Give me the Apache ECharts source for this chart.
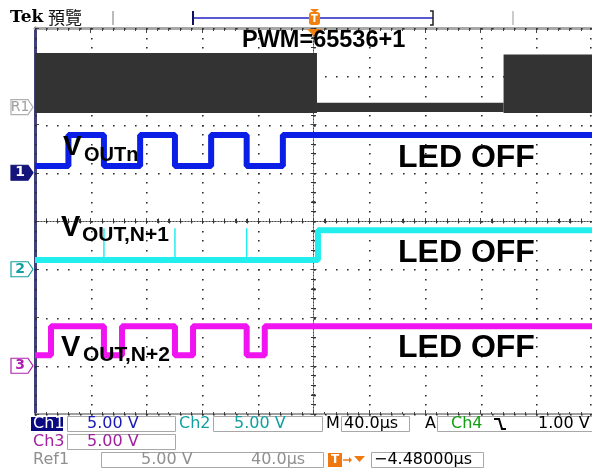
<!DOCTYPE html>
<html><head><meta charset="utf-8">
<script src="https://cdn.jsdelivr.net/npm/echarts@6/dist/echarts.min.js"></script>
<style>html,body{margin:0;padding:0;background:#fff}#c{width:592px;height:470px}</style>
</head><body><div id="c"></div>
<script>
// Time axis in µs (40 µs/div, 10 div); vertical axis in screen divisions (8 div)
const timeMin = -200, timeMax = 200, timeDiv = 40;
const divMin = -4, divMax = 4;
const xTicks = [-200, -160, -120, -80, -40, 0, 40, 80, 120, 160, 200];
const yTicks = [-4, -3, -2, -1, 0, 1, 2, 3, 4];

// Ref1 (PWM clock bursts): dark band segments between ref1Times[i] and ref1Times[i+1]
const ref1Times  = [-200, 2.5, 136.5, 200];
const ref1Top    = [3.48, 2.45, 3.45];
const ref1Bottom = [2.24, 2.26, 2.24];

// Ch1 VOUTn
const ch1Times  = [-200, -176, -150.5, -124.5, -99.5, -73.5, -48, -22, 200];
const ch1Levels = [1.14, 1.78, 1.14, 1.78, 1.14, 1.78, 1.14, 1.78, 1.78];

// Ch2 VOUT,N+1
const ch2Times  = [-200, 3.2, 200];
const ch2Levels = [-0.81, -0.19, -0.19];
const ch2SpikeTimes = [-150.5, -99.5, -48];
const ch2SpikeTop = -0.15;

// Ch3 VOUT,N+2
const ch3Times  = [-200, -188.5, -150.5, -137.5, -99.5, -86.5, -48, -35, 200];
const ch3Levels = [-2.78, -2.18, -2.78, -2.18, -2.78, -2.18, -2.78, -2.18, -2.18];

// channel ground markers (div)
const markerNames  = ['R1', '1', '2', '3'];
const markerLevels = [2.36, 1.0, -1.0, -3.0];

const zip = (a, b) => a.map((t, i) => [t, b[i]]);
const spikeData = [];
ch2SpikeTimes.forEach(t => { spikeData.push([t, ch2Levels[0]], [t, ch2SpikeTop], [t, '-']); });
const ref1Segs = ref1Top.map((top, i) => [ref1Times[i], ref1Times[i + 1], ref1Bottom[i], top]);

// graticule items: [kind, value]  0 = vertical division line, 1 = horizontal division line,
// 2 = minor tick on the centre horizontal line, 3 = minor tick on the centre vertical line
const gratData = [];
xTicks.forEach(t => gratData.push([0, t]));
yTicks.forEach(v => gratData.push([1, v]));
for (let i = 0; i < xTicks.length - 1; i++) for (let k = 1; k < 5; k++)
  gratData.push([2, xTicks[i] + (xTicks[i + 1] - xTicks[i]) * k / 5]);
for (let i = 0; i < yTicks.length - 1; i++) for (let k = 1; k < 5; k++)
  gratData.push([3, yTicks[i] + (yTicks[i + 1] - yTicks[i]) * k / 5]);

const chart = echarts.init(document.getElementById('c'), null, {renderer: 'canvas'});

const tickStyle = {color: '#444', width: 1};
const baseX = {type: 'value', min: timeMin, max: timeMax, interval: timeDiv,
  axisLabel: {show: false}, splitLine: {show: false}};
const baseY = {type: 'value', min: divMin, max: divMax, interval: 1,
  axisLabel: {show: false}, splitLine: {show: false}};
function ticks(len, mlen) {
  return {
    axisTick: {show: true, inside: true, length: len, lineStyle: tickStyle},
    minorTick: {show: true, splitNumber: 5, length: mlen, lineStyle: tickStyle}
  };
}
const DOT = 1.6, DOTC = '#2a2a2a';

chart.setOption({
  animation: false,
  backgroundColor: '#fff',
  grid: {left: 35, right: 0, top: 28, bottom: 56, containLabel: false},
  xAxis: [
    Object.assign({}, baseX, ticks(4, 2), {position: 'bottom',
      axisLine: {show: true, onZero: false, lineStyle: {color: '#a0a0a0', width: 2}}}),
    Object.assign({}, baseX, ticks(5, 3), {position: 'top',
      axisLine: {show: true, onZero: false, lineStyle: {color: '#a8a8a8', width: 3}}}),
    Object.assign({}, baseX, ticks(3, 2), {position: 'bottom',
      axisLine: {show: true, onZero: true, onZeroAxisIndex: 0, lineStyle: {color: '#444', width: 1, type: [1, 2]}}}),
    Object.assign({}, baseX, ticks(3, 2), {position: 'top',
      axisLine: {show: true, onZero: true, onZeroAxisIndex: 0, lineStyle: {color: '#444', width: 1, type: [1, 2]}}})
  ],
  yAxis: [
    Object.assign({}, baseY, ticks(4, 2), {position: 'left',
      axisLine: {show: true, onZero: false, lineStyle: {color: '#40407a', width: 3}}}),
    Object.assign({}, baseY, ticks(3, 2), {position: 'left',
      axisLine: {show: true, onZero: true, onZeroAxisIndex: 0, lineStyle: {color: '#444', width: 1, type: [1, 2]}}}),
    Object.assign({}, baseY, ticks(3, 2), {position: 'right',
      axisLine: {show: true, onZero: true, onZeroAxisIndex: 0, lineStyle: {color: '#444', width: 1, type: [1, 2]}}})
  ],
  series: [
    {name: 'Graticule', type: 'custom', data: gratData, z: 1, silent: true, clip: false,
      renderItem: function (params, api) {
        const kind = api.value(0), v = api.value(1);
        const children = [];
        if (kind === 0) {
          const a = api.coord([v, divMax]), b = api.coord([v, divMin]);
          const x = Math.min(Math.round(a[0]), 590);
          const gap = (b[1] - a[1]) / 40;
          for (let k = 0; k <= 40; k++)
            children.push({type: 'rect', shape: {x: x, y: Math.round(a[1] + k * gap), width: DOT, height: DOT}, style: {fill: DOTC}});
          return {type: 'group', children: children};
        }
        if (kind === 1) {
          const a = api.coord([timeMin, v]), b = api.coord([timeMax, v]);
          const y = Math.round(a[1]);
          const gap = (b[0] - a[0]) / 50;
          for (let k = 0; k <= 50; k++)
            children.push({type: 'rect', shape: {x: Math.min(Math.round(a[0] + k * gap), 590), y: y, width: DOT, height: DOT}, style: {fill: DOTC}});
          return {type: 'group', children: children};
        }
        if (kind === 2) {
          const p = api.coord([v, 0]);
          const x = Math.round(p[0]) + 0.5;
          return {type: 'line', shape: {x1: x, y1: p[1] - 2.5, x2: x, y2: p[1] + 2.5},
            style: {stroke: '#333', lineWidth: 1}};
        }
        const p = api.coord([0, v]);
        const y = Math.round(p[1]) + 0.5;
        return {type: 'line', shape: {x1: p[0] - 2.5, y1: y, x2: p[0] + 2.5, y2: y},
          style: {stroke: '#333', lineWidth: 1}};
      }},
    {name: 'Ref1', type: 'custom', data: ref1Segs, z: 3, silent: true,
      encode: {x: [0, 1], y: [2, 3]},
      renderItem: function (params, api) {
        const p1 = api.coord([api.value(0), api.value(3)]);
        const p2 = api.coord([api.value(1), api.value(2)]);
        return {type: 'rect', shape: {x: p1[0], y: p1[1], width: p2[0] - p1[0], height: p2[1] - p1[1]},
          style: {fill: '#333'}};
      }},
    {name: 'Ch1', type: 'line', step: 'end', symbol: 'none', data: zip(ch1Times, ch1Levels),
      lineStyle: {color: '#0a1ee6', width: 6}, z: 4},
    {name: 'Ch2', type: 'line', step: 'end', symbol: 'none', data: zip(ch2Times, ch2Levels),
      lineStyle: {color: '#22eeee', width: 6}, z: 4},
    {name: 'Ch2 spikes', type: 'line', symbol: 'none', data: spikeData, connectNulls: false,
      lineStyle: {color: '#22eeee', width: 1.5}, z: 4},
    {name: 'Ch3', type: 'line', step: 'end', symbol: 'none', data: zip(ch3Times, ch3Levels),
      lineStyle: {color: '#f014f0', width: 6}, z: 4}
  ]
});

// ---- decorations & text ----
const g = [];
function txt(x, y, text, font, fill, align) {
  g.push({type: 'text', x: x, y: y, z: 100, silent: true,
    style: {text: text, font: font, fill: fill, textAlign: align || 'left', textVerticalAlign: 'middle'}});
}
function rect(x, y, w, h, fill, stroke) {
  g.push({type: 'rect', z: 90, shape: {x: x, y: y, width: w, height: h},
    style: {fill: fill || 'none', stroke: stroke || 'none', lineWidth: 1}});
}
function line(x1, y1, x2, y2, color, w) {
  g.push({type: 'line', z: 90, shape: {x1: x1, y1: y1, x2: x2, y2: y2}, style: {stroke: color, lineWidth: w}});
}
const B = 'bold ', LS = '"Liberation Sans", Arial, sans-serif';

// top bar
txt(10, 18, 'Tek', 'bold 17px "DejaVu Serif", serif', '#000');
txt(48, 18, '預覽', '17px "Noto Sans CJK TC", sans-serif', '#111');
line(113, 11, 113, 25, '#bbb', 2);
line(513, 11, 513, 25, '#ccc', 2);
line(193, 18, 433, 18, '#5a5ad0', 2);
line(193, 11, 193, 25, '#101060', 2);
g.push({type: 'polyline', z: 90, shape: {points: [[430, 11], [433, 11], [433, 25], [430, 25]]}, style: {stroke: '#222', lineWidth: 1.5, fill: 'none'}});
g.push({type: 'rect', z: 91, shape: {x: 309, y: 12, width: 11, height: 13, r: 3}, style: {fill: '#f08010'}});
g.push({type: 'polygon', z: 91, shape: {points: [[310, 9], [319, 9], [314.5, 13]]}, style: {fill: '#f08010'}});
txt(314.5, 19, 'T', 'bold 10px "DejaVu Sans", sans-serif', '#fff', 'center');
g.push({type: 'polygon', z: 91, shape: {points: [[307, 29], [322, 29], [314.5, 37]]}, style: {fill: '#f08010'}});

// annotations
txt(242, 40.5, 'PWM=65536+1', B + '23.5px ' + LS, '#000');
txt(63, 147, 'V', B + '28px ' + LS, '#000');
txt(84, 155, 'OUTn', B + '20px ' + LS, '#000');
txt(61, 227.5, 'V', B + '29px ' + LS, '#000');
txt(82, 235.5, 'OUT,N+1', B + '21px ' + LS, '#000');
txt(61, 347.5, 'V', B + '29px ' + LS, '#000');
txt(83, 355, 'OUT,N+2', B + '21px ' + LS, '#000');
txt(398, 158.5, 'LED OFF', B + '32px ' + LS, '#000');
txt(398, 253, 'LED OFF', B + '32px ' + LS, '#000');
txt(398, 348.5, 'LED OFF', B + '32px ' + LS, '#000');

// channel markers at ground levels
const markerStyle = [
  {fill: '#fff', stroke: '#b0b0b0', text: '#a0a0a0'},
  {fill: '#14147a', stroke: '#14147a', text: '#fff'},
  {fill: '#fff', stroke: '#10a0a0', text: '#10a0a0'},
  {fill: '#fff', stroke: '#b020b0', text: '#b020b0'}
];
markerNames.forEach((n, i) => {
  const y = chart.convertToPixel({yAxisIndex: 0}, markerLevels[i]);
  const s = markerStyle[i];
  g.push({type: 'polygon', z: 92, shape: {points: [[11, y - 7.5], [28, y - 7.5], [33, y], [28, y + 7.5], [11, y + 7.5]]},
    style: {fill: s.fill, stroke: s.stroke, lineWidth: 1.2}});
  txt(20, y, n, (i === 0 ? '' : 'bold ') + '14px "DejaVu Sans", sans-serif', s.text, 'center');
});

// status area
const SF = '16px "DejaVu Sans", sans-serif';
const boxC = '#a8a8a8';
rect(31, 417, 32, 14, '#0a0a80');
txt(33, 424, 'Ch1', SF, '#fff');
rect(67.5, 416.5, 108, 15, null, boxC);
txt(87, 424, '5.00 V', SF, '#1a1ab4');
txt(179, 424, 'Ch2', SF, '#10a0a0');
rect(213.5, 416.5, 109, 15, null, boxC);
txt(234, 424, '5.00 V', SF, '#10a0a0');
txt(326, 424, 'M', SF, '#000');
rect(341.5, 416.5, 68, 15, null, boxC);
txt(344, 424, '40.0µs', SF, '#000');
txt(425, 424, 'A', SF, '#000');
rect(437.5, 416.5, 160, 15, null, boxC);
txt(451, 424, 'Ch4', SF, '#10a010');
g.push({type: 'polyline', z: 92, shape: {points: [[494, 419], [499, 419], [502, 429], [506, 429]]}, style: {stroke: '#000', lineWidth: 2, fill: 'none'}});
txt(538, 424, '1.00 V', SF, '#000');

txt(33, 442, 'Ch3', SF, '#a020a0');
rect(67.5, 434.5, 108, 15, null, boxC);
txt(87, 442, '5.00 V', SF, '#a020a0');

txt(33, 460, 'Ref1', SF, '#909090');
rect(101.5, 452.5, 222, 15, null, boxC);
txt(141, 460, '5.00 V', SF, '#909090');
txt(251, 460, '40.0µs', SF, '#909090');
rect(328, 453, 14, 14, '#f07810');
txt(335, 460, 'T', 'bold 12px "DejaVu Sans", sans-serif', '#fff', 'center');
line(343, 460, 350, 460, '#f07810', 1.5);
g.push({type: 'polygon', z: 91, shape: {points: [[349, 457], [352, 460], [349, 463]]}, style: {fill: '#f07810'}});
g.push({type: 'polygon', z: 91, shape: {points: [[354, 456], [365, 456], [359.5, 462]]}, style: {fill: '#f07810'}});
rect(371.5, 452.5, 112, 15, null, boxC);
txt(374, 460, '\u22124.48000µs', SF, '#000');

chart.setOption({graphic: g});
</script>
</body></html>
